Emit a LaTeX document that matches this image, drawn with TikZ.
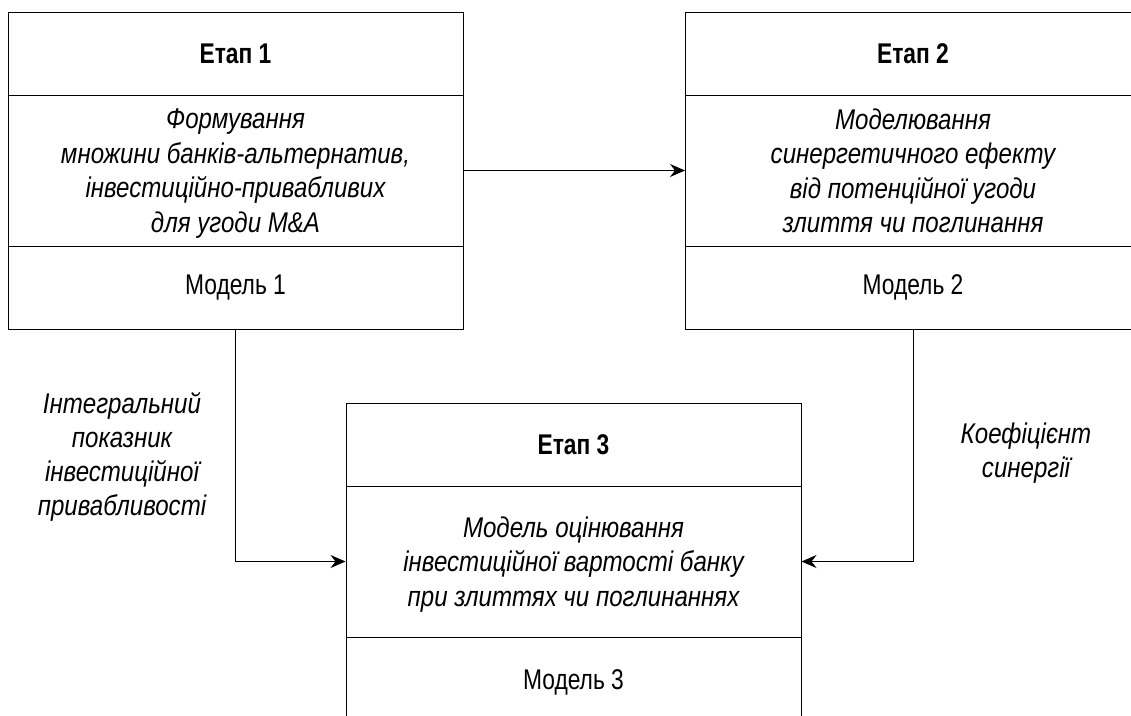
\documentclass[tikz,border=0pt]{standalone}
\usepackage{fontspec}
\setmainfont{Liberation Sans}[FakeStretch=0.8]
\newfontfamily\itfam{Liberation Sans}[FakeStretch=0.845]
\usetikzlibrary{arrows.meta}
\begin{document}
\begin{tikzpicture}[x=1pt,y=-1pt,
  sec/.style={draw=black, line width=1pt, minimum width=455pt, inner sep=0pt, align=center,
    font=\fontsize{28.5}{34.5}\selectfont},
  ttl/.style={sec, minimum height=83pt, font=\fontsize{28.5}{34.5}\selectfont\bfseries},
  bdy/.style={sec, minimum height=151pt, text depth=0pt, font=\itfam\fontsize{28.5}{34.5}\selectfont\itshape},
  mdl/.style={sec, minimum height=83pt},
  lbl/.style={align=center, inner sep=0pt, font=\itfam\fontsize{28.5}{34}\selectfont\itshape},
  arr/.style={draw=black, line width=1pt, -{Stealth[length=15pt,width=13pt,inset=5pt]}}]
\useasboundingbox (0,0) rectangle (1131,715);
\clip (0,0) rectangle (1131,715);
% Stage 1
\node[ttl] (t1) at (235.5,53.5) {Етап 1};
\node[bdy] (b1) at (235.5,170.5) {Формування\\множини банків-альтернатив,\\інвестиційно-привабливих\\для угоди M\&A};
\node[mdl] (m1) at (235.5,287.5) {Модель 1};
% Stage 2
\node[ttl] (t2) at (913,53.5) {Етап 2};
\node[bdy] (b2) at (913,170.5) {Моделювання\\синергетичного ефекту\\від потенційної угоди\\злиття чи поглинання};
\node[mdl] (m2) at (913,287.5) {Модель 2};
% Stage 3
\node[ttl] (t3) at (573.5,445) {Етап 3};
\node[bdy] (b3) at (573.5,561.5) {Модель оцінювання\\інвестиційної вартості банку\\при злиттях чи поглинаннях};
\node[mdl, minimum height=91pt] (m3) at (573.5,682.5) {Модель 3};
% labels
\node[lbl] (l1) at (122,457) {Інтегральний\\показник\\інвестиційної\\привабливості};
\node[lbl] (l2) at (1026,453) {Коефіцієнт\\синергії};
% connectors
\draw[arr] (b1.east) -- (b2.west);
\draw[arr] (m1.south) |- (b3.west);
\draw[arr] (m2.south) |- (b3.east);
\end{tikzpicture}
\end{document}
